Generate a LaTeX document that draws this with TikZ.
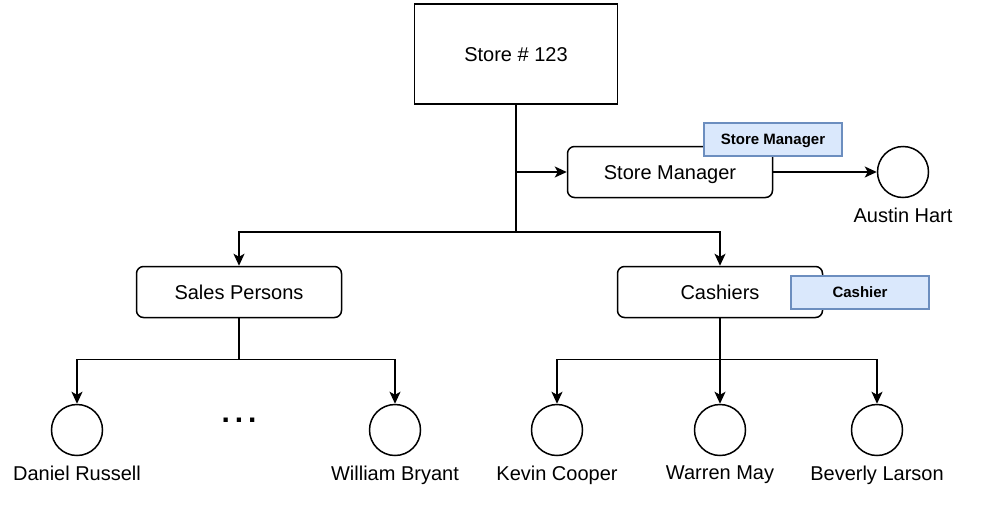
\documentclass[tikz,border=0pt]{standalone}
\usepackage{fontspec}
\setmainfont{Liberation Sans}
\usetikzlibrary{arrows.meta,positioning}
\definecolor{tagfill}{HTML}{DAE8FC}
\definecolor{tagline}{HTML}{6C8EBF}

\begin{document}
\begin{tikzpicture}[%
>={Stealth[length=12pt,width=11pt,inset=3pt]},
on grid,
every node/.style={font=\fontsize{20}{24}\selectfont},
box/.style={draw,line width=1.5pt,rounded corners=7pt,minimum width=205pt,minimum height=51pt,text height=14pt,text depth=0pt},
tag/.style={draw=tagline,fill=tagfill,line width=2pt,minimum width=138pt,minimum height=33pt,text height=11pt,text depth=0pt,font=\fontsize{15}{18}\selectfont\bfseries},
person/.style={draw,circle,line width=1.5pt,minimum size=51pt,label={[label distance=6pt]below:#1}},
link/.style={line width=1.5pt}
]
\useasboundingbox (0,0) rectangle (981pt,-514pt);

\node[box,rounded corners=0pt,minimum width=203pt,minimum height=100pt] (store) at (516pt,-54pt) {Store \# 123};
\node[box] (mgr) [below right=118pt and 154pt of store] {Store Manager};
\node[tag] (mgrtag) [above right=33pt and 103pt of mgr] {Store Manager};
\node[person=Austin Hart] (austin) [right=233pt of mgr] {};
\node[box] (sales) [below left=238pt and 277pt of store] {Sales Persons};
\node[box] (cash) [below right=238pt and 204pt of store] {Cashiers};
\node[tag] (cashtag) [right=140pt of cash] {Cashier};

% sales persons
\node[person=Daniel Russell] (daniel) [below left=138pt and 162pt of sales] {};
\node[person=William Bryant] (william) [below right=138pt and 156pt of sales] {};
\node[font=\fontsize{30}{36}\selectfont\bfseries] (dots) [below=128pt of sales] {.\hspace{5pt}.\hspace{5pt}.};

% cashiers
\node[person=Kevin Cooper] (kevin) [below left=138pt and 163pt of cash] {};
\node[person=Warren May] (warren) [below=138pt of cash] {};
\node[person=Beverly Larson] (beverly) [below right=138pt and 157pt of cash] {};

\coordinate[below=127pt of store.south] (split);
\coordinate[below=41pt of sales.south] (salessplit);
\coordinate[below=41pt of cash.south] (cashsplit);

\draw[link,->] (store.south) -- (split) -| (sales.north);
\draw[link,->] (split) -| (cash.north);
\draw[link,->] (store.south |- mgr.west) -- (mgr.west);
\draw[link,->] (mgr) -- (austin);

\draw[link,->] (sales.south) -- (salessplit) -| (daniel.north);
\draw[link,->] (salessplit) -| (william.north);

\draw[link,->] (cash.south) -- (cashsplit) -| (kevin.north);
\draw[link,->] (cashsplit) -- (warren.north);
\draw[link,->] (cashsplit) -| (beverly.north);

\end{tikzpicture}
\end{document}
